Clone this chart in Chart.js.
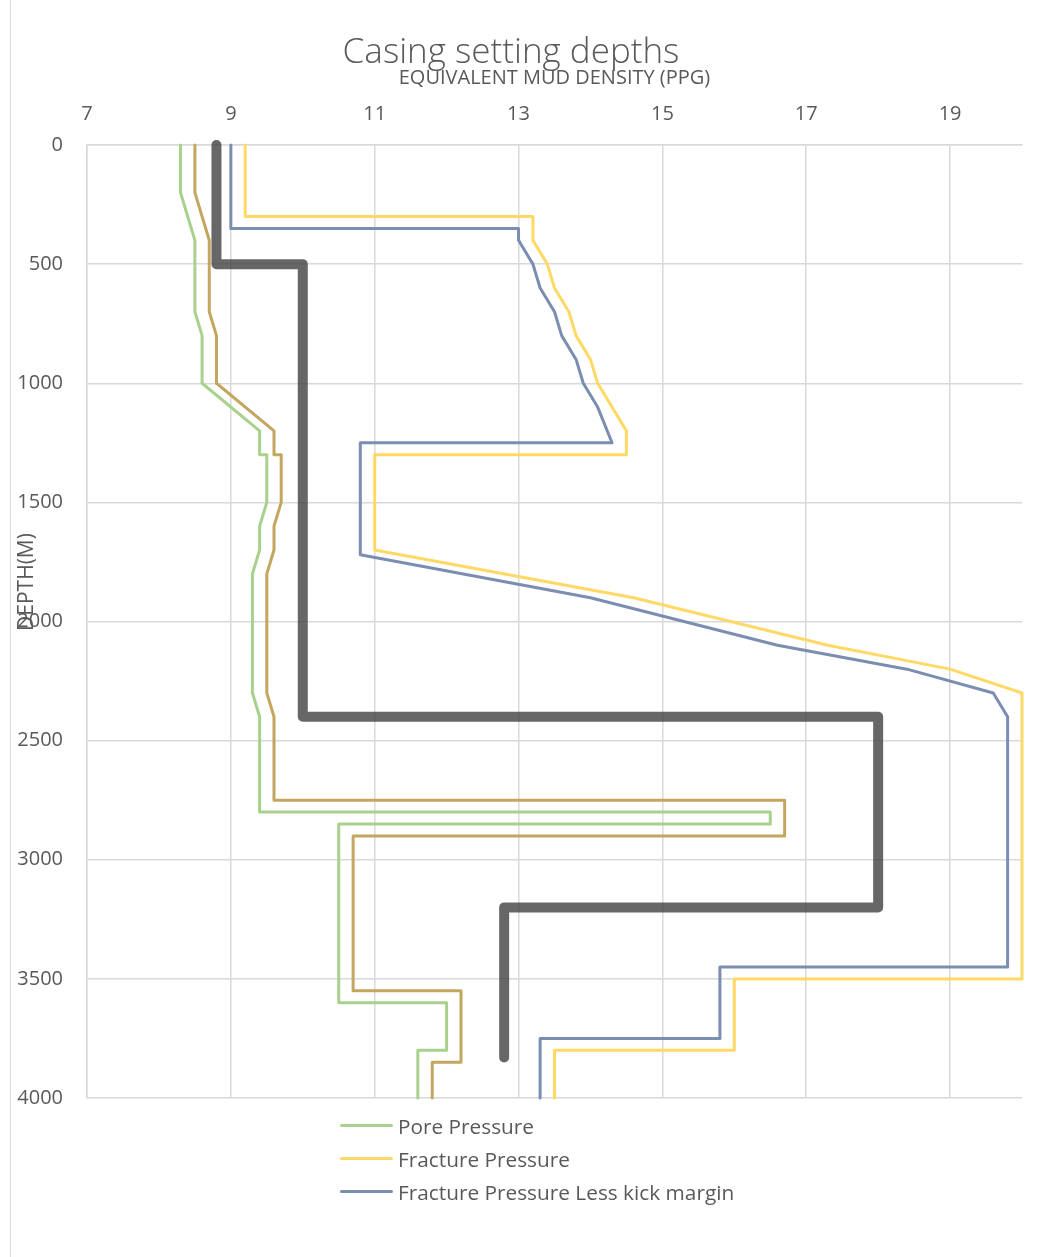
<!DOCTYPE html>
<html>
<head>
<meta charset="utf-8">
<script src="https://cdn.jsdelivr.net/npm/chart.js@4/dist/chart.umd.min.js"></script>
<style>
  html, body { margin: 0; padding: 0; background: #fff; }
  #wrap { position: relative; width: 1043px; height: 1257px; }
  #frame { position: absolute; left: 10px; top: 0; width: 0; height: 1257px; border-left: 1px solid #d9d9d9; }
  #legend { position: absolute; left: 340px; top: 1109px; font-family: "Open Sans", sans-serif; font-size: 20.8px; color: #595959; }
  .item { display: flex; align-items: center; height: 33px; }
  .swatch { width: 53px; height: 3px; border-radius: 2px; margin-right: 5px; }
</style>
</head>
<body>
<div id="wrap">
  <canvas id="chart" width="1043" height="1257"></canvas>
  <div id="frame"></div>
  <div id="legend"></div>
</div>
<script>
// Depth (m) and equivalent mud density (ppg) for each profile
const poreDepth = [0, 200, 400, 700, 800, 1000, 1200, 1300, 1300, 1500, 1600, 1700, 1800, 2300, 2400, 2800, 2800, 2850, 2850, 3600, 3600, 3800, 3800, 4000];
const porePpg   = [8.3, 8.3, 8.5, 8.5, 8.6, 8.6, 9.4, 9.4, 9.5, 9.5, 9.4, 9.4, 9.3, 9.3, 9.4, 9.4, 16.5, 16.5, 10.5, 10.5, 12.0, 12.0, 11.6, 11.6];

const fracDepth = [0, 300, 300, 400, 500, 600, 700, 800, 900, 1000, 1200, 1300, 1300, 1700, 1900, 2100, 2200, 2300, 3500, 3500, 3800, 3800, 4000];
const fracPpg   = [9.2, 9.2, 13.2, 13.2, 13.4, 13.5, 13.7, 13.8, 14.0, 14.1, 14.5, 14.5, 11.0, 11.0, 14.6, 17.3, 19.0, 20.0, 20.0, 16.0, 16.0, 13.5, 13.5];

const kickDepth = [0, 350, 350, 400, 500, 600, 700, 800, 900, 1000, 1100, 1250, 1250, 1720, 1900, 2100, 2200, 2300, 2400, 3450, 3450, 3750, 3750, 4000];
const kickPpg   = [9.0, 9.0, 13.0, 13.0, 13.2, 13.3, 13.5, 13.6, 13.8, 13.9, 14.1, 14.3, 10.8, 10.8, 14.0, 16.6, 18.4, 19.6, 19.8, 19.8, 15.8, 15.8, 13.3, 13.3];

const tripDepth = [0, 200, 400, 700, 800, 1000, 1200, 1300, 1300, 1500, 1600, 1700, 1800, 2300, 2400, 2750, 2750, 2900, 2900, 3550, 3550, 3850, 3850, 4000];
const tripPpg   = [8.5, 8.5, 8.7, 8.7, 8.8, 8.8, 9.6, 9.6, 9.7, 9.7, 9.6, 9.6, 9.5, 9.5, 9.6, 9.6, 16.7, 16.7, 10.7, 10.7, 12.2, 12.2, 11.8, 11.8];

const casingDepth = [0, 500, 500, 2400, 2400, 3200, 3200, 3830];
const casingPpg   = [8.8, 8.8, 10.0, 10.0, 18.0, 18.0, 12.8, 12.8];

const xTicks = [7, 9, 11, 13, 15, 17, 19];
const yTicks = [0, 500, 1000, 1500, 2000, 2500, 3000, 3500, 4000];

const TEXT = '#595959';
const GRID = '#d9d9d9';
const FONT = '"Open Sans", sans-serif';

function pts(xs, ys) { return xs.map((v, i) => ({ x: v, y: ys[i] })); }

const series = [
  { label: 'Pore Pressure', data: pts(porePpg, poreDepth), color: '#a9d18e', width: 3, legend: true },
  { label: 'Fracture Pressure', data: pts(fracPpg, fracDepth), color: '#ffd966', width: 3, legend: true },
  { label: 'Fracture Pressure Less kick margin', data: pts(kickPpg, kickDepth), color: '#7b8db0', width: 3, legend: true },
  { label: 'Trip margin', data: pts(tripPpg, tripDepth), color: '#c4a65f', width: 3, legend: false },
  { label: 'Casing program', data: pts(casingPpg, casingDepth), color: 'rgba(60,60,60,0.78)', width: 10, legend: false }
];

const yTitle = {
  id: 'yTitle',
  afterDraw(chart) {
    const ctx = chart.ctx;
    ctx.save();
    ctx.translate(27, 582);
    ctx.rotate(-Math.PI / 2);
    ctx.font = '21px ' + FONT;
    ctx.fillStyle = TEXT;
    ctx.textAlign = 'center';
    ctx.textBaseline = 'middle';
    ctx.fillText('DEPTH(M)', 0, 0);
    ctx.restore();
  }
};

new Chart(document.getElementById('chart'), {
  type: 'line',
  data: {
    datasets: series.map(s => ({
      label: s.label,
      data: s.data,
      borderColor: s.color,
      backgroundColor: s.color,
      borderWidth: s.width,
      borderJoinStyle: 'round',
      borderCapStyle: 'round',
      pointRadius: 0,
      tension: 0,
      fill: false,
      clip: false
    }))
  },
  options: {
    responsive: false,
    animation: false,
    devicePixelRatio: 1,
    layout: { padding: { left: 0, right: 21, top: 0, bottom: 159 } },
    plugins: {
      legend: { display: false },
      tooltip: { enabled: false },
      title: {
        display: true,
        text: 'Casing setting depths',
        color: TEXT,
        font: { family: FONT, size: 35, weight: '300', lineHeight: 0.9 },
        padding: { top: 37, bottom: 0 }
      }
    },
    scales: {
      x: {
        type: 'linear',
        position: 'top',
        min: 7,
        max: 20,
        afterBuildTicks: axis => { axis.ticks = xTicks.map(v => ({ value: v })); },
        afterFit: axis => { axis.height = 76.5; },
        grid: { color: GRID, lineWidth: 1.5, drawTicks: false },
        border: { color: GRID, width: 1.5 },
        ticks: { color: TEXT, padding: 19, font: { family: FONT, size: 20 }, callback: v => String(v) },
        title: {
          display: true,
          text: 'EQUIVALENT MUD DENSITY (PPG)',
          color: TEXT,
          padding: { top: 0, bottom: 0 },
          font: { family: FONT, size: 20, lineHeight: 1 }
        }
      },
      y: {
        type: 'linear',
        reverse: true,
        min: 0,
        max: 4000,
        afterBuildTicks: axis => { axis.ticks = yTicks.map(v => ({ value: v })); },
        afterFit: axis => { axis.width = 87; },
        grid: { color: GRID, lineWidth: 1.5, drawTicks: false },
        border: { color: GRID, width: 1.5 },
        ticks: { color: TEXT, padding: 24, font: { family: FONT, size: 20 }, callback: v => String(v) }
      }
    }
  },
  plugins: [yTitle]
});

// Legend lists the three pressure profiles
const legend = document.getElementById('legend');
series.filter(s => s.legend).forEach(s => {
  const item = document.createElement('div');
  item.className = 'item';
  const sw = document.createElement('span');
  sw.className = 'swatch';
  sw.style.background = s.color;
  const tx = document.createElement('span');
  tx.textContent = s.label;
  item.appendChild(sw);
  item.appendChild(tx);
  legend.appendChild(item);
});
</script>
</body>
</html>
